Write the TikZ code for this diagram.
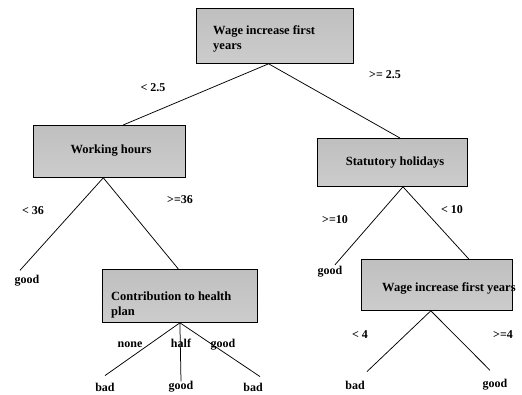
\documentclass[tikz,border=0pt]{standalone}
\usepackage{fontspec}
\setmainfont{Liberation Serif}
\usetikzlibrary{calc}
\begin{document}
\begin{tikzpicture}[x=1pt,y=-1pt,
  box/.style={draw=black, line width=0.8pt, top color=gray!50, bottom color=gray!40, inner sep=0pt, anchor=north west},
  txt/.style={font=\fontsize{12.5}{15}\selectfont\bfseries, inner sep=0pt, align=left},
  lbl/.style={font=\fontsize{12}{14}\selectfont\bfseries, inner sep=0pt},
  conn/.style={line width=0.75pt}]
\useasboundingbox[fill=white] (0,0) rectangle (522,395);
% boxes
\node[box, minimum width=157pt, minimum height=55pt] (T) at (196,8) {};
\node[txt, anchor=west] (Tt) at (213,39) {Wage increase first\\years};
\node[box, minimum width=152pt, minimum height=52pt] (W) at (33,125) {};
\node[txt] (Wt) at (111,151) {Working hours};
\node[box, minimum width=150pt, minimum height=48pt] (S) at (317,138) {};
\node[txt] (St) at (395,163) {Statutory holidays};
\node[box, minimum width=155pt, minimum height=53pt] (C) at (102,269) {};
\node[txt, anchor=west] (Ct) at (111,304.5) {Contribution to health\\plan};
\node[box, minimum width=151pt, minimum height=51pt] (V) at (361,259) {};
\node[txt, anchor=west] (Vt) at (382,288) {Wage increase first years};
% leaves
\node[lbl] (g1) at (27,281) {good};
\node[lbl] (b1) at (105,387) {bad};
\node[lbl] (g2) at (181,387) {good};
\node[lbl] (b2) at (253,387) {bad};
\node[lbl] (g3) at (330,272) {good};
\node[lbl] (b3) at (355,385) {bad};
\node[lbl] (g4) at (495,385) {good};
% edge labels
\node[lbl] (l1) at (153,88) {< 2.5};
\node[lbl] (l2) at (385,75) {>= 2.5};
\node[lbl] (l3) at (33,211) {< 36};
\node[lbl] (l4) at (180,200) {>=36};
\node[lbl] (l5) at (130,345) {none};
\node[lbl] (l6) at (181,343) {half};
\node[lbl] (l7) at (223,345) {good};
\node[lbl] (l8) at (335,220) {>=10};
\node[lbl] (l9) at (452,210) {< 10};
\node[lbl] (l10) at (360,335) {< 4};
\node[lbl] (l11) at (503,335) {>=4};
% connectors
\draw[conn] ($(T.south west)!0.46!(T.south east)$) -- ($(W.north west)!0.59!(W.north east)$);
\draw[conn] ($(T.south west)!0.46!(T.south east)$) -- ($(S.north west)!0.55!(S.north east)$);
\draw[conn] ($(W.south west)!0.46!(W.south east)$) -- ($(g1.north)+(-7,-5)$);
\draw[conn] ($(W.south west)!0.46!(W.south east)$) -- ($(C.north west)!0.49!(C.north east)$);
\draw[conn] ($(S.south west)!0.57!(S.south east)$) -- ($(g3.north)+(5,-1.5)$);
\draw[conn] ($(S.south west)!0.57!(S.south east)$) -- ($(V.north west)!0.71!(V.north east)$);
\draw[conn] ($(C.south west)!0.5!(C.south east)$) -- ($(b1.north)+(0,-7)$);
\draw[conn] ($(C.south west)!0.5!(C.south east)$) -- ($(g2.north)+(0,0)$);
\draw[conn] ($(C.south west)!0.5!(C.south east)$) -- ($(b2.north)+(7,-6)$);
\draw[conn] ($(V.south west)!0.46!(V.south east)$) -- ($(b3.north)+(12,-9)$);
\draw[conn] ($(V.south west)!0.46!(V.south east)$) -- ($(g4.north)+(-5,-9)$);
\end{tikzpicture}
\end{document}
